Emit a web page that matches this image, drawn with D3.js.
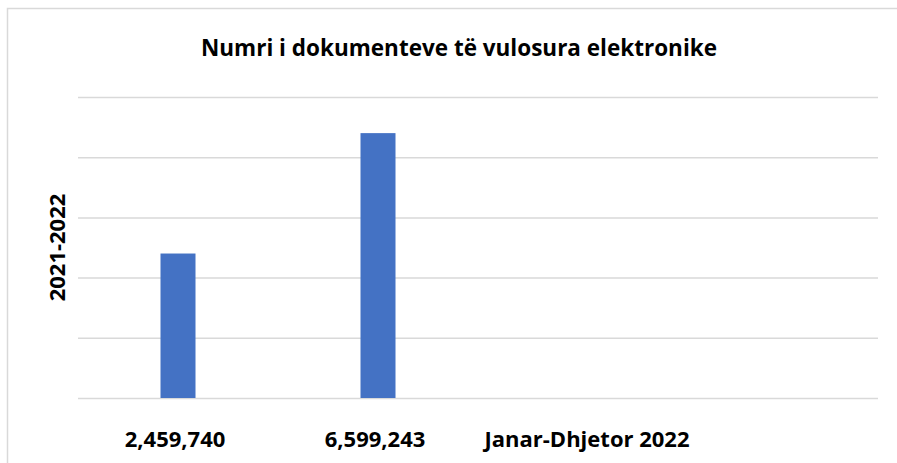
<!DOCTYPE html>
<html>
<head>
<meta charset="utf-8">
<script src="https://cdn.jsdelivr.net/npm/d3@7"></script>
<style>
  body { margin: 0; background: #fff; }
  text { font-family: "Open Sans", "Liberation Sans", sans-serif; font-weight: bold; fill: #000; }
</style>
</head>
<body>
<script>
// chart data
const categories = ["2,459,740", "6,599,243", "Janar-Dhjetor 2022", ""];
const values = [2.4, 4.4, null, null];
const yTicks = [0, 1, 2, 3, 4, 5];
const chartTitle = "Numri i dokumenteve të vulosura elektronike";
const yTitle = "2021-2022";

const svgWidth = 897;
const svgHeight = 463;
const margin = {top: 97, right: 19, bottom: 65, left: 78};
const width = svgWidth - margin.left - margin.right;
const height = svgHeight - margin.top - margin.bottom;

const svg = d3.select("body")
  .append("svg")
  .attr("width", svgWidth)
  .attr("height", svgHeight);

// outer chart border (only top/left visible)
svg.append("rect")
  .attr("x", 7.5)
  .attr("y", 8.5)
  .attr("width", svgWidth + 10)
  .attr("height", svgHeight + 10)
  .attr("fill", "none")
  .attr("stroke", "#d9d9d9")
  .attr("stroke-width", 1.5);

const xScale = d3.scaleBand()
  .domain(categories)
  .range([0, width]);

const yScale = d3.scaleLinear()
  .domain([0, 5])
  .range([height, 0]);

const g = svg.append("g")
  .attr("transform", "translate(" + margin.left + "," + margin.top + ")");

// gridlines
g.append("g")
  .call(d3.axisLeft(yScale).tickValues(yTicks).tickSize(-width).tickFormat(""))
  .call(s => s.select(".domain").remove())
  .selectAll("line")
  .attr("stroke", "#d9d9d9")
  .attr("stroke-width", 1.5);

// bars
const barWidth = 35;
g.selectAll("rect.bar")
  .data(categories.map((c, i) => ({c: c, v: values[i]})).filter(d => d.v != null))
  .enter()
  .append("rect")
  .attr("class", "bar")
  .attr("x", d => xScale(d.c) + xScale.bandwidth() / 2 - barWidth / 2)
  .attr("y", d => yScale(d.v))
  .attr("width", barWidth)
  .attr("height", d => height - yScale(d.v))
  .attr("fill", "#4472c4");

// x axis labels
const xAxis = g.append("g")
  .attr("transform", "translate(0," + height + ")")
  .call(d3.axisBottom(xScale).tickSize(0).tickPadding(33));
xAxis.select(".domain").remove();
xAxis.selectAll("text")
  .style("font-size", "22px")
  .attr("dx", (d, i) => i == 2 ? 9 : -3);

// title
svg.append("text")
  .attr("x", 459)
  .attr("y", 56)
  .attr("text-anchor", "middle")
  .style("font-size", "22.5px")
  .text(chartTitle);

// y axis title
svg.append("text")
  .attr("transform", "translate(65," + (margin.top + height / 2) + ") rotate(-90)")
  .attr("text-anchor", "middle")
  .style("font-size", "22px")
  .text(yTitle);
</script>
</body>
</html>
